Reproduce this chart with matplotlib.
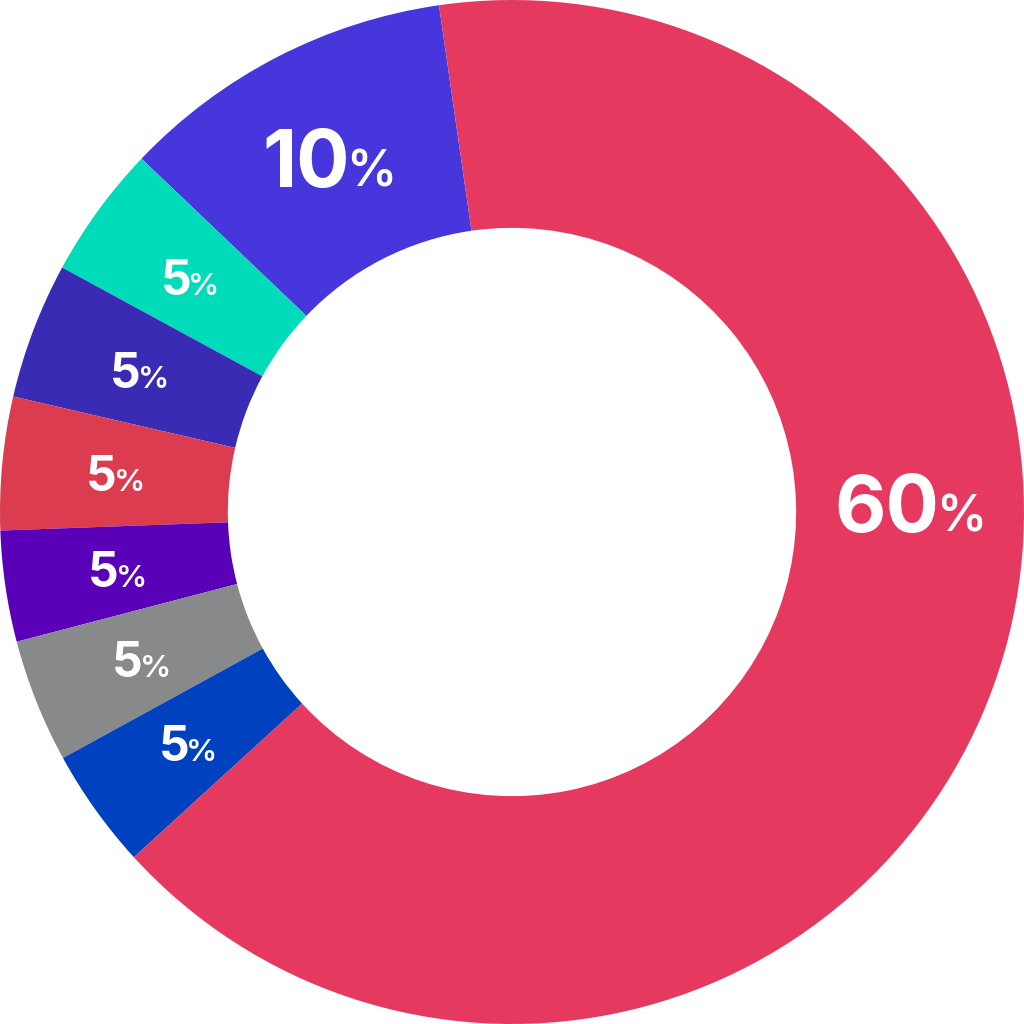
import numpy as np
import matplotlib.pyplot as plt

# shares, labels as printed on the chart
shares = [10.6, 4.2, 4.3, 4.2, 3.5, 3.9, 3.8, 65.5]
labels = ['10', '5', '5', '5', '5', '5', '5', '60']
colors = ['#4636DC', '#00DCB9', '#3A2BB4', '#DB3C50', '#5A00B8', '#88898B', '#0041C0', '#E6395F']

fig = plt.figure(figsize=(10.24, 10.24), dpi=100)
ax = fig.add_axes([0, 0, 1, 1])
wedges, _ = ax.pie(shares, colors=colors, startangle=98.2, counterclock=True,
                   radius=1.0, wedgeprops=dict(width=0.445, linewidth=0))
ax.set_xlim(-1, 1)
ax.set_ylim(-1, 1)
ax.set_aspect('equal')
ax.axis('off')

rend = fig.canvas.get_renderer()
px = 2 / 1024  # data units per pixel

for w, lab in zip(wedges, labels):
    mid = (w.theta1 + w.theta2) / 2
    if lab == '60':
        mid = 1.3
    ang = np.deg2rad(mid)
    fs, ps = (57, 36) if len(lab) > 1 else (34.5, 22.5)
    cx, cy = 0.778 * np.cos(ang), 0.778 * np.sin(ang)
    base = cy - fs / 0.72 * 0.727 * px / 2
    t1 = ax.text(0, base, lab, fontsize=fs, fontweight='bold', color='white',
                 ha='left', va='baseline', family='Inter')
    t2 = ax.text(0, base, '%', fontsize=ps, fontweight='semibold', color='white',
                 ha='left', va='baseline', family='Inter')
    w1 = t1.get_window_extent(rend).width * px
    w2 = t2.get_window_extent(rend).width * px
    gap = -3 * px
    x0 = cx - (w1 + gap + w2) / 2
    t1.set_x(x0)
    t2.set_x(x0 + w1 + gap)

fig.savefig('out.png', dpi=100, facecolor='white')
